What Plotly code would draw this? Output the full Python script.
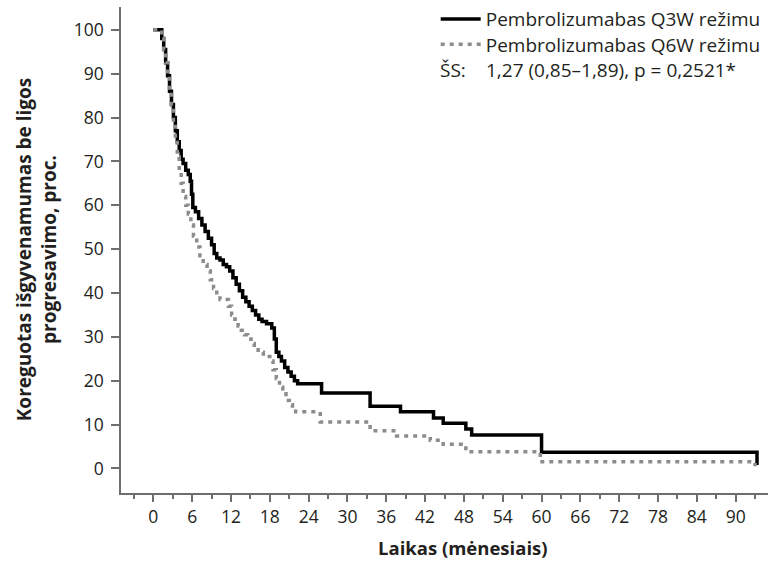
import plotly.graph_objects as go

# ---- data ----
q3w_months = [0, 1.3, 1.6, 1.9, 2.2, 2.5, 2.8, 3.1, 3.4, 3.7, 4.0, 4.3, 4.6, 5.0, 5.4, 5.7,
              5.9, 6.1, 6.5, 7.0, 7.5, 8.0, 8.5, 9.0, 9.4, 9.8, 10.3, 10.8, 11.3, 11.8, 12.3,
              12.8, 13.3, 13.8, 14.3, 14.8, 15.3, 15.8, 16.3, 16.8, 17.5, 18.3, 18.7, 19.0,
              19.4, 19.8, 20.3, 20.8, 21.3, 21.8, 22.3, 26.0, 33.5, 38.2, 43.3, 44.8, 48.3,
              49.2, 60.0, 93.3]
q3w_pfs = [100, 98, 95.5, 92.5, 89.5, 86, 83, 80, 77, 74.5, 72.5, 70.5, 69.5, 68, 67, 65.5,
           62.5, 59.5, 58.5, 57, 55.5, 54, 52.5, 51, 49, 48, 47.5, 46.5, 46, 45, 43.5,
           42, 40.5, 39, 38, 37, 36, 35, 34, 33.5, 33, 32, 29.5, 26.5,
           25.5, 24.5, 23, 22, 21, 20, 19.3, 17.2, 14.2, 12.9, 11.5, 10.3, 9.0,
           7.6, 3.7, 0.8]

q6w_months = [0, 1.3, 1.6, 1.9, 2.2, 2.5, 2.8, 3.1, 3.4, 3.7, 4.0, 4.3, 4.6, 5.0, 5.4, 5.8,
              6.2, 6.7, 7.2, 7.7, 8.3, 8.8, 9.3, 9.8, 10.3, 11.6, 12.1, 12.6, 13.1, 13.6,
              14.1, 14.6, 15.1, 15.6, 16.2, 17.0, 18.0, 18.5, 19.0, 19.5, 20.0, 20.5, 21.0,
              21.5, 22.0, 25.8, 33.5, 37.6, 42.8, 44.8, 48.3, 59.8, 93.0]
q6w_pfs = [100, 98, 95.5, 92.5, 89.5, 86, 83, 79, 75, 71, 68, 65, 62, 60, 58, 55.5,
           53, 50.5, 48.5, 46.5, 45, 43, 41, 39.5, 38.5, 37, 35, 34, 32.5, 31.5,
           30.5, 29.5, 28.5, 27.5, 26.5, 25.5, 24.5, 22.5, 20.5, 18.5, 17, 15.5, 14.5,
           13.5, 12.9, 10.6, 8.6, 7.4, 6.4, 5.5, 3.8, 1.5, 0.5]

series_names = ["Pembrolizumabas Q3W režimu", "Pembrolizumabas Q6W režimu"]
hr_label = "ŠS:"
hr_text = "1,27 (0,85–1,89), p = 0,2521*"
x_ticks = list(range(0, 91, 6))
y_ticks = list(range(0, 101, 10))
x_title = "Laikas (mėnesiais)"
y_title = "Koreguotas išgyvenamumas be ligos<br>progresavimo, proc."

FONT = "Open Sans"
TXT = "#231f20"
AX = "#6d6e71"

fig = go.Figure()
fig.add_trace(go.Scatter(x=q3w_months, y=q3w_pfs, mode="lines", line_shape="hv",
                         name=series_names[0], legend="legend",
                         line=dict(color="#000000", width=3.5)))
fig.add_trace(go.Scatter(x=q6w_months, y=q6w_pfs, mode="lines", line_shape="hv",
                         name=series_names[1], legend="legend2",
                         line=dict(color="#8c8c8c", width=3.5, dash="4px,5px")))

axis_common = dict(showgrid=False, zeroline=False, showline=True, linecolor=AX,
                   linewidth=1.5, ticks="outside", tickcolor=AX, tickwidth=1.5,
                   automargin=False,
                   tickfont=dict(family=FONT, size=17.5, color=TXT))

fig.update_xaxes(range=[-5, 95], tickvals=x_ticks, ticklen=7,
                 minor=dict(dtick=3, tick0=0, ticklen=4, ticks="outside",
                            tickcolor=AX, tickwidth=1.5),
                 ticklabelstandoff=0, **axis_common)
fig.update_yaxes(range=[-5.6, 105.2], tickvals=y_ticks, ticklen=8,
                 ticklabelstandoff=4, **axis_common)

fig.add_annotation(text=y_title, xref="paper", yref="paper", x=-0.131, y=0.50,
                   textangle=-90, showarrow=False, xanchor="center", yanchor="middle",
                   font=dict(family=FONT, size=19, color=TXT, weight="bold"))
fig.add_annotation(text=x_title, xref="paper", yref="paper", x=0.528, y=-0.113,
                   showarrow=False, xanchor="center", yanchor="middle",
                   font=dict(family=FONT, size=18.5, color=TXT, weight="bold"))
fig.add_annotation(text=hr_label, xref="paper", yref="paper", x=0.490, y=0.870,
                   showarrow=False, xanchor="left", yanchor="middle",
                   font=dict(family=FONT, size=19, color=TXT))
fig.add_annotation(text=hr_text, xref="paper", yref="paper", x=0.561, y=0.870,
                   showarrow=False, xanchor="left", yanchor="middle",
                   font=dict(family=FONT, size=19, color=TXT))

legend_style = dict(xanchor="left", yanchor="top", bgcolor="rgba(0,0,0,0)",
                    borderwidth=0, font=dict(family=FONT, size=19, color=TXT),
                    itemwidth=40, tracegroupgap=0)

fig.update_layout(
    width=769, height=561,
    margin=dict(l=121, r=1, t=7, b=68, autoexpand=False),
    plot_bgcolor="white", paper_bgcolor="white",
    showlegend=True,
    legend=dict(x=0.4864, y=1.014, **legend_style),
    legend2=dict(x=0.4864, y=0.962, **legend_style),
)

fig.write_html("out.html", config={"displayModeBar": False},
               post_script="document.body.style.margin='0';document.body.style.padding='0';")
